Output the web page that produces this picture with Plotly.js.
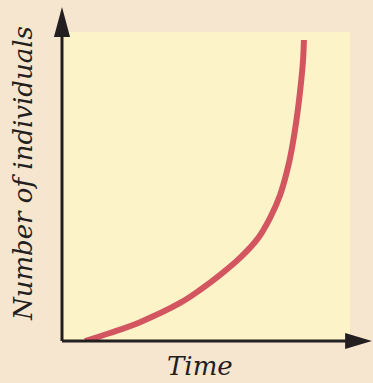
<!DOCTYPE html>
<html>
<head>
<meta charset="utf-8">
<script src="https://cdn.plot.ly/plotly-3.0.1.min.js"></script>
<style>html,body{margin:0;padding:0;background:#f6e6d0;}</style>
</head>
<body>
<div id="chart" style="width:373px;height:383px;"></div>
<script>
// Relative time (0-100) and relative number of individuals (0-100)
const time = [8.0, 16.7, 27.1, 41.0, 47.9, 54.9, 61.8, 68.1, 72.2, 75.7, 78.8, 80.9, 82.6, 83.7, 84.0];
const individuals = [0, 2.6, 6.1, 12.3, 16.5, 21.4, 26.9, 33.3, 39.8, 47.2, 57.6, 68.3, 80.3, 90.9, 97.4];
const xTitle = "Time";
const yTitle = "Number of individuals";

const ink = "#231f20";
const titleFont = {family: "DejaVu Serif", size: 26, color: ink, style: "italic"};

const trace = {
  x: time, y: individuals, type: "scatter", mode: "lines",
  line: {color: "#d25560", width: 6, shape: "spline", smoothing: 1},
  hoverinfo: "none"
};

const layout = {
  width: 373, height: 383,
  margin: {l: 62, r: 23, t: 32, b: 42, pad: 0},
  paper_bgcolor: "#f6e6d0",
  plot_bgcolor: "#fdf3c9",
  showlegend: false,
  xaxis: {range: [0, 100], showgrid: false, zeroline: false, showticklabels: false, ticks: "", showline: false, fixedrange: true},
  yaxis: {range: [0, 100], showgrid: false, zeroline: false, showticklabels: false, ticks: "", showline: false, fixedrange: true},
  shapes: [
    {type: "line", xref: "paper", yref: "paper", x0: 0, y0: 0, x1: 0, y1: 0.99, line: {color: ink, width: 3}},
    {type: "line", xref: "paper", yref: "paper", x0: 0, y0: 0, x1: 0.99, y1: 0, line: {color: ink, width: 3}},
    {type: "path", xref: "paper", yref: "paper", path: "M -0.028 0.984 L 0 1.081 L 0.028 0.984 Z", fillcolor: ink, line: {width: 0}},
    {type: "path", xref: "paper", yref: "paper", path: "M 0.983 0.026 L 1.076 0 L 0.983 -0.026 Z", fillcolor: ink, line: {width: 0}}
  ],
  annotations: [
    {text: xTitle, xref: "paper", yref: "paper", x: 0.479, y: -0.081, xanchor: "center", yanchor: "middle", showarrow: false, font: titleFont},
    {text: yTitle, xref: "paper", yref: "paper", x: -0.137, y: 0.542, xanchor: "center", yanchor: "middle", textangle: -90, showarrow: false, font: titleFont}
  ]
};

Plotly.newPlot("chart", [trace], layout, {displayModeBar: false, staticPlot: true});
</script>
</body>
</html>
